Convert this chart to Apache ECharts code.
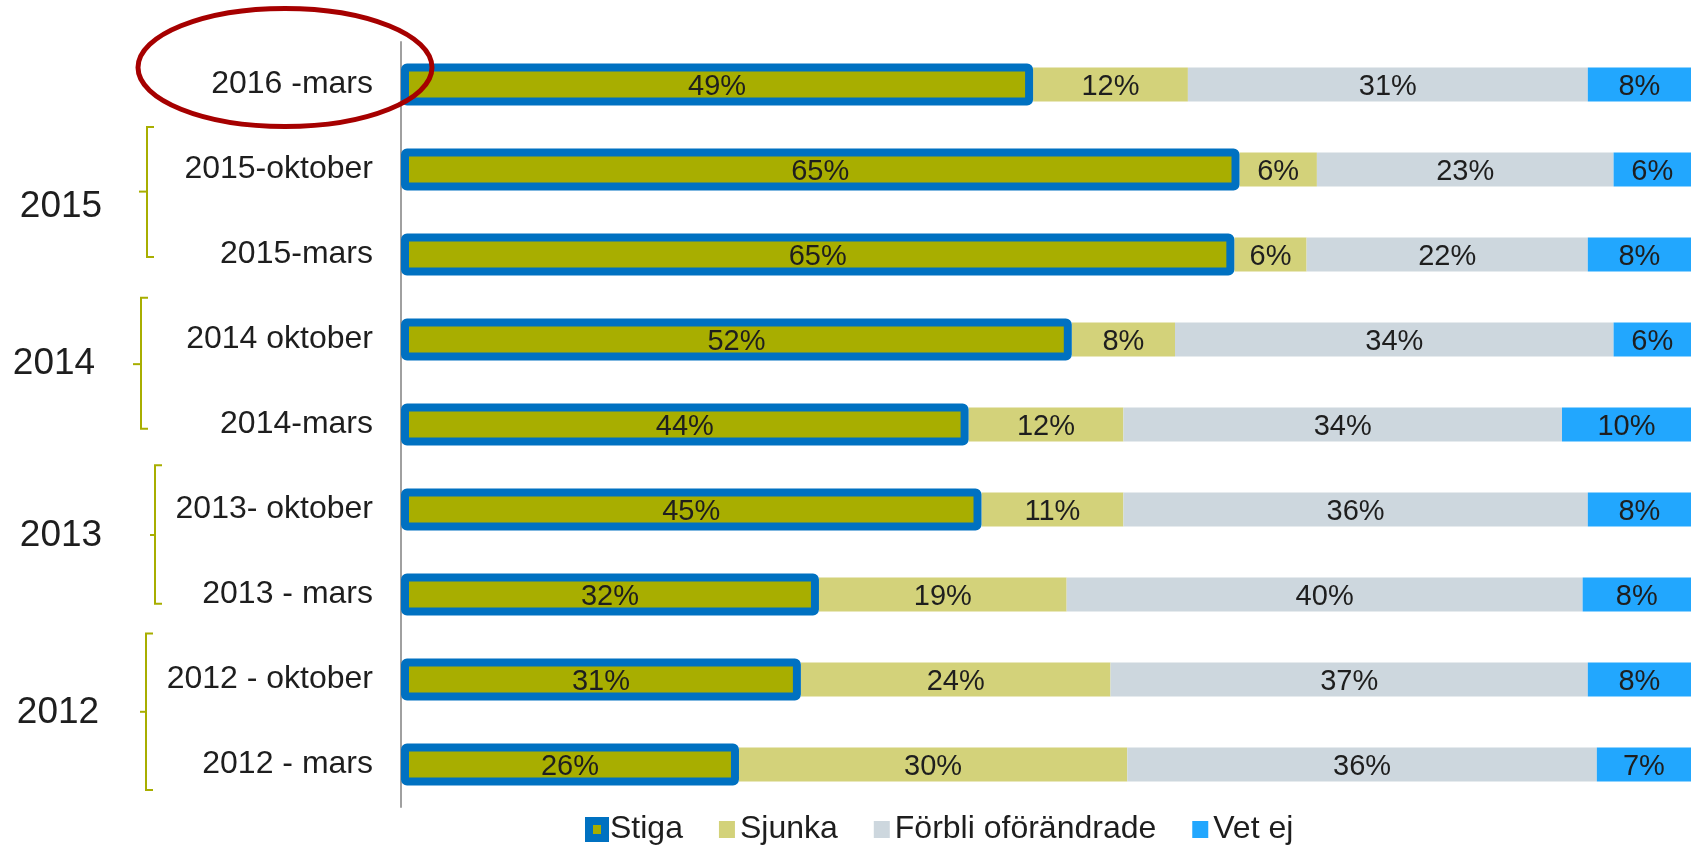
<!DOCTYPE html>
<html>
<head>
<meta charset="utf-8">
<script src="https://cdn.jsdelivr.net/npm/echarts@6/dist/echarts.min.js"></script>
<style>
  html, body { margin: 0; padding: 0; background: #fff; }
  #chart { width: 1691px; height: 846px; }
</style>
</head>
<body>
<div id="chart"></div>
<script>
// periods, top to bottom
const periods = ['2016 -mars', '2015-oktober', '2015-mars', '2014 oktober', '2014-mars',
  '2013- oktober', '2013 - mars', '2012 - oktober', '2012 - mars'];
const stiga = [49, 65, 64.6, 52, 44, 45, 32.4, 31, 26.2];
const sjunka = [12, 6, 5.6, 8, 12, 11, 19.2, 24, 30.1];
const forbli = [31, 23, 21.8, 34, 34, 36, 40, 37, 36.4];
const vetEj = [8, 6, 8, 6, 10, 8, 8.4, 8, 7.3];
const seriesNames = ['Stiga', 'Sjunka', 'Förbli oförändrade', 'Vet ej'];
const yearLabels = ['2015', '2014', '2013', '2012'];

const FONT = "'Liberation Sans', Arial, sans-serif";
const TEXT = '#1e1e1e';
const OLIVE = '#a8ae00';
const BLUE = '#0071c1';

// bracket layout, in category units (0 = centre of first row)
const bracketGeo = [
  { x: 147, top: 0.50, bottom: 2.03, mid: 1.26, text: 1.435, tx: 61, left: 8 },
  { x: 141, top: 2.51, bottom: 4.05, mid: 3.29, text: 3.28, tx: 54, left: 8 },
  { x: 155, top: 4.48, bottom: 6.11, mid: 5.30, text: 5.31, tx: 61, left: 5 },
  { x: 146, top: 6.46, bottom: 8.30, mid: 7.38, text: 7.39, tx: 58, left: 6 }
];

const chart = echarts.init(document.getElementById('chart'), null, { renderer: 'canvas' });

const labelStyle = {
  show: true,
  position: 'inside',
  offset: [0, 2],
  formatter: (p) => Math.round(p.value) + '%',
  fontSize: 29,
  fontFamily: FONT,
  color: TEXT
};

const mk = (name, data, color) => ({
  name,
  type: 'bar',
  stack: 'tot',
  barWidth: 34,
  data,
  itemStyle: { color },
  label: labelStyle,
  emphasis: { disabled: true }
});

const catAxis = (show) => ({
  type: 'category',
  data: periods,
  inverse: true,
  show,
  axisLine: { lineStyle: { color: '#a0a0a0', width: 2 } },
  axisTick: { length: 8, lineStyle: { color: '#a0a0a0', width: 2 } },
  axisLabel: { fontSize: 32, fontFamily: FONT, color: TEXT, margin: 28, padding: [4, 0, 0, 0] }
});

chart.setOption({
  animation: false,
  backgroundColor: '#fff',
  grid: { left: 401, right: -4, top: 42, height: 765, containLabel: false },
  xAxis: { type: 'value', min: 0, max: 100, show: false },
  yAxis: [catAxis(true), catAxis(false)],
  legend: {
    left: 585,
    top: 813,
    padding: 0,
    itemGap: 36,
    itemWidth: 16,
    itemHeight: 17,
    icon: 'rect',
    textStyle: { fontSize: 32, lineHeight: 33, fontFamily: FONT, color: TEXT },
    data: [
      { name: seriesNames[0], itemStyle: { color: OLIVE, borderColor: BLUE, borderWidth: 8 } },
      seriesNames[1], seriesNames[2], seriesNames[3]
    ]
  },
  series: [
    // invisible base so the other segments start where Stiga ends
    {
      name: 'base',
      type: 'bar',
      stack: 'tot',
      barWidth: 34,
      data: stiga,
      silent: true,
      itemStyle: { color: 'rgba(0,0,0,0)' },
      label: { show: false }
    },
    mk(seriesNames[1], sjunka, '#d3d27a'),
    mk(seriesNames[2], forbli, '#cdd7de'),
    mk(seriesNames[3], vetEj, '#22a7fe'),
    {
      name: seriesNames[0],
      type: 'bar',
      yAxisIndex: 1,
      barWidth: 42,
      z: 3,
      data: stiga,
      itemStyle: { color: OLIVE, borderColor: BLUE, borderWidth: 8, borderRadius: 2 },
      label: labelStyle,
      emphasis: { disabled: true }
    }
  ]
});

// brackets, year labels and the highlight ellipse
const y0 = chart.convertToPixel({ yAxisIndex: 0 }, 0);
const y1 = chart.convertToPixel({ yAxisIndex: 0 }, 1);
const band = y1 - y0;
const yAt = (f) => y0 + f * band;

const graphics = [];
bracketGeo.forEach((g, i) => {
  const t = yAt(g.top), b = yAt(g.bottom), m = yAt(g.mid);
  graphics.push({
    type: 'polyline',
    shape: { points: [[g.x + 7, t], [g.x, t], [g.x, b], [g.x + 7, b]] },
    style: { stroke: OLIVE, lineWidth: 2, fill: null }
  });
  graphics.push({
    type: 'line',
    shape: { x1: g.x - g.left, y1: m, x2: g.x, y2: m },
    style: { stroke: OLIVE, lineWidth: 2 }
  });
  graphics.push({
    type: 'text',
    x: g.tx,
    y: yAt(g.text),
    style: {
      text: yearLabels[i],
      fontSize: 37,
      fontFamily: FONT,
      fill: TEXT,
      align: 'center',
      verticalAlign: 'middle'
    }
  });
});
graphics.push({
  type: 'ellipse',
  z: 10,
  shape: { cx: 285, cy: y0 - 17, rx: 147, ry: 59 },
  style: { stroke: '#a60000', lineWidth: 5, fill: null }
});
chart.setOption({ graphic: graphics });
</script>
</body>
</html>
